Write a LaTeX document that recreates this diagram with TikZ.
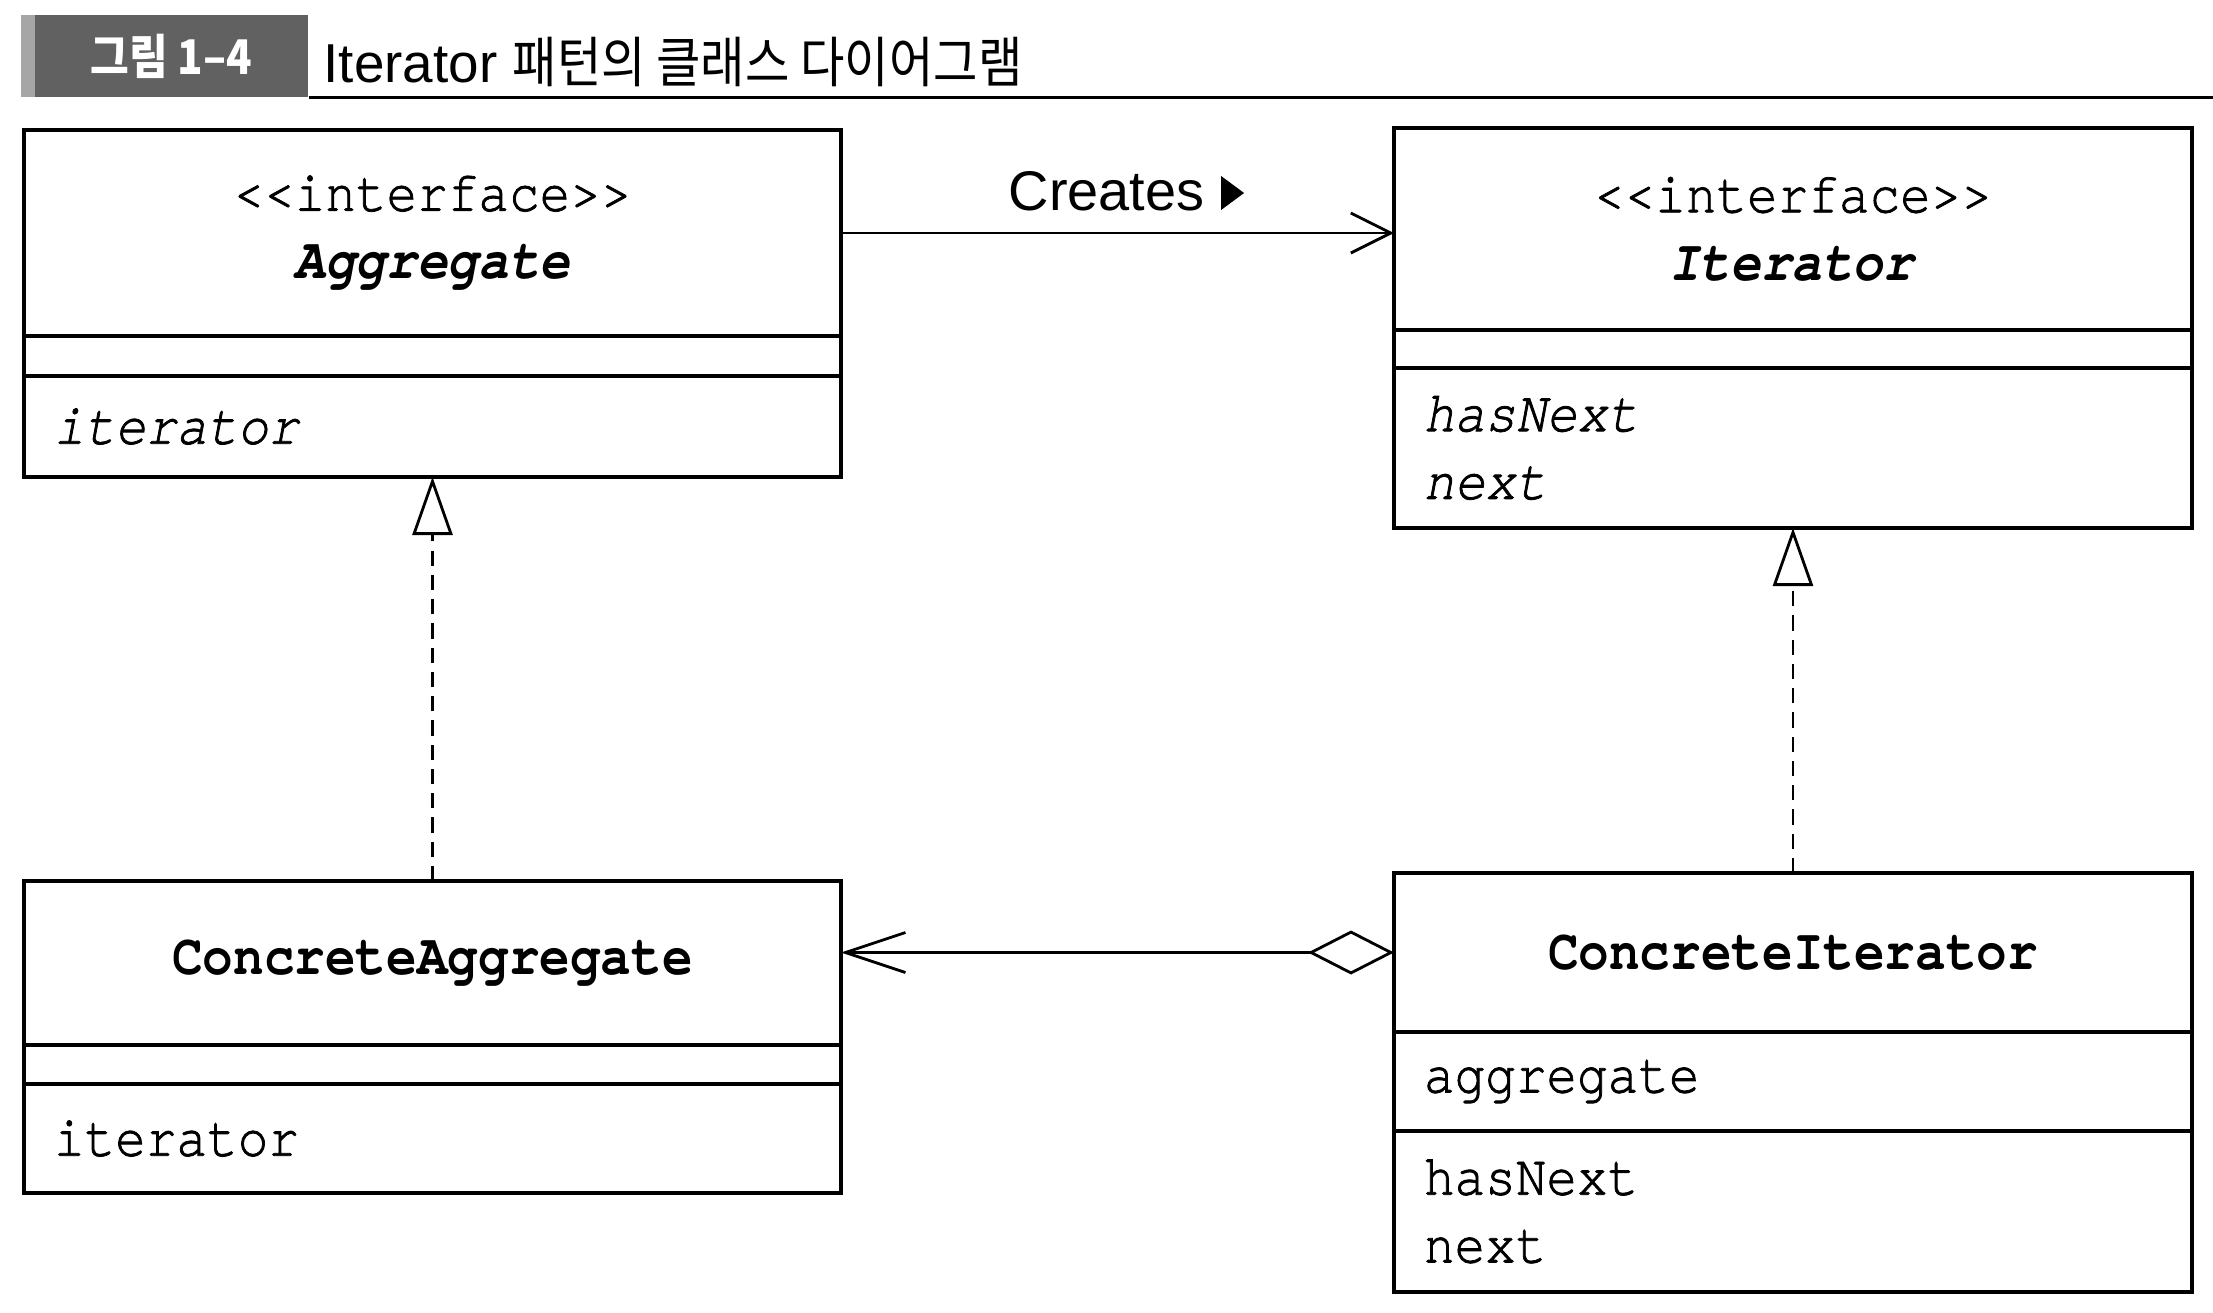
\documentclass[tikz,border=0pt]{standalone}
\usepackage{fontspec}
\setmainfont{Liberation Sans}
\setmonofont{TeX Gyre Cursor}[FakeStretch=0.88, UprightFeatures={FakeBold=1.3}, ItalicFeatures={FakeBold=1.3}]
\newfontfamily\krfont[FakeStretch=0.88]{Noto Sans CJK KR}
\usetikzlibrary{arrows.meta, positioning, calc}

\newcommand{\umlfont}{\ttfamily\fontsize{16.5}{19.3}\selectfont}

\tikzset{
  compart/.style={draw, line width=0.9pt, inner xsep=3mm, inner ysep=0pt, outer sep=0pt, font=\umlfont},
  leftbox/.style={compart, text width=7.57cm},
  rightbox/.style={compart, text width=7.38cm},
  assoc/.style={line width=0.8pt, -{Straight Barb[length=4mm, width=4mm]}},
  realize/.style={line width=0.8pt, dash pattern=on 4.3pt off 2.6pt, -{Triangle[open, length=5.8mm, width=4mm]}},
  aggreg/.style={line width=0.8pt, {Diamond[open, length=8.6mm, width=4.4mm]}-{Straight Barb[length=6mm, width=4mm]}}
}

\begin{document}
\begin{tikzpicture}
\fill[white] (0,0) rectangle (22.13,-13.13);
\useasboundingbox (0,0) rectangle (22.13,-13.13);

% figure caption
\fill[black!35] (0.21,-0.15) rectangle (0.35,-0.97);
\node[fill=black!62, text=white, minimum width=2.73cm, minimum height=0.82cm, inner sep=0pt,
      font=\krfont\bfseries\fontsize{13.6}{13.6}\selectfont] (figNo) at (1.715,-0.56) {\raisebox{-0.5mm}{그림 1–4}};
\node[anchor=base west, inner sep=0pt, font=\fontsize{15.6}{15.6}\selectfont] (figTitle) at (3.23,-0.82)
  {Iterator {\krfont 패턴의 클래스 다이어그램}};
\draw[line width=0.8pt] (figNo.south east) -- ++(19.05,0);

% Aggregate
\node[leftbox, align=center, minimum height=2.06cm] (aggTitle) at (4.325,-2.33)
  {<<interface>>\\\textbf{\textit{Aggregate}}};
\node[leftbox, minimum height=0.40cm, below=0pt of aggTitle] (aggAttr) {};
\node[leftbox, align=left, minimum height=1.01cm, below=0pt of aggAttr] (aggOps) {\textit{iterator}};

% Iterator
\node[rightbox, align=center, minimum height=2.02cm] (itTitle) at (17.93,-2.29)
  {<<interface>>\\\textbf{\textit{Iterator}}};
\node[rightbox, minimum height=0.38cm, below=0pt of itTitle] (itAttr) {};
\node[rightbox, align=left, minimum height=1.60cm, below=0pt of itAttr] (itOps)
  {\textit{hasNext}\\\textit{next}};

% ConcreteAggregate
\node[leftbox, align=center, minimum height=1.64cm] (caTitle) at (4.325,-9.63)
  {\textbf{ConcreteAggregate}};
\node[leftbox, minimum height=0.39cm, below=0pt of caTitle] (caAttr) {};
\node[leftbox, align=left, minimum height=1.09cm, below=0pt of caAttr] (caOps) {iterator};

% ConcreteIterator
\node[rightbox, align=center, minimum height=1.59cm] (ciTitle) at (17.93,-9.525)
  {\textbf{ConcreteIterator}};
\node[rightbox, align=left, minimum height=0.99cm, below=0pt of ciTitle] (ciAttr) {aggregate};
\node[rightbox, align=left, minimum height=1.61cm, below=0pt of ciAttr] (ciOps) {hasNext\\next};

% relations
\draw[assoc] (aggTitle.east) -- (aggTitle.east -| itTitle.west);
\node[anchor=base west, inner sep=0pt, font=\fontsize{15.9}{15.9}\selectfont] (createsLbl) at (10.08,-2.10) {Creates};
\fill ([xshift=1.6mm]createsLbl.base east) -- ++(0,3.4mm) -- ++(2.3mm,-1.7mm) -- cycle;

\draw[realize] (caTitle.north) -- (caTitle.north |- aggOps.south);
\draw[realize] (ciTitle.north) -- (ciTitle.north |- itOps.south);
\draw[aggreg] (ciTitle.west) -- (ciTitle.west -| caTitle.east);
\end{tikzpicture}
\end{document}
